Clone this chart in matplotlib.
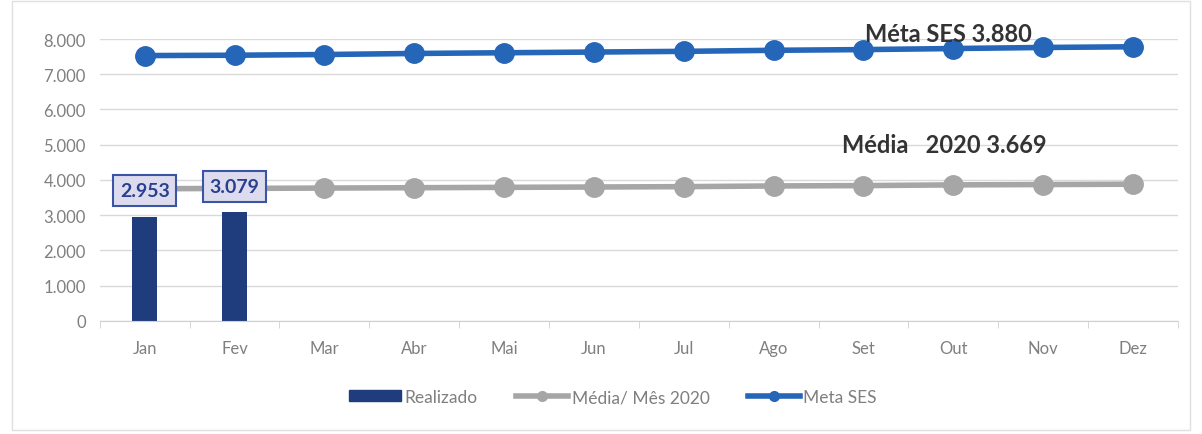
import matplotlib.pyplot as plt
import numpy as np
from matplotlib.patches import Rectangle
from matplotlib.lines import Line2D

plt.rcParams['font.family'] = ['Lato', 'DejaVu Sans']

months = ['Jan', 'Fev', 'Mar', 'Abr', 'Mai', 'Jun', 'Jul', 'Ago', 'Set', 'Out', 'Nov', 'Dez']
realizado = [2953, 3079]
media_mes = [3750, 3760, 3770, 3780, 3790, 3800, 3810, 3830, 3840, 3860, 3870, 3880]
meta_ses = [7530, 7540, 7560, 7590, 7610, 7630, 7650, 7680, 7700, 7730, 7760, 7780]
yticks = [0, 1000, 2000, 3000, 4000, 5000, 6000, 7000, 8000]
ytick_labels = ['0', '1.000', '2.000', '3.000', '4.000', '5.000', '6.000', '7.000', '8.000']

bar_col = '#1f3d7c'
media_col = '#a6a6a6'
meta_col = '#2566b8'
txt_col = '#7f7f7f'

fig = plt.figure(figsize=(12.02, 4.35), dpi=100)
ax = fig.add_axes([0.083, 0.26, 0.897, 0.648])

x = np.arange(len(months))
bars = ax.bar(x[:len(realizado)], realizado, width=0.28, color=bar_col, zorder=2)
ax.plot(x, media_mes, color=media_col, lw=4, marker='o', ms=14, zorder=3, clip_on=False)
ax.plot(x, meta_ses, color=meta_col, lw=4, marker='o', ms=14, zorder=3, clip_on=False)

# value labels in boxes
for i, v in enumerate(realizado):
    ax.text(x[i], 3700 + 120 * i, f'{v / 1000:.3f}', ha='center', va='center', fontsize=14,
            fontweight='bold', color='#2a3f8f', zorder=5,
            bbox=dict(boxstyle='square,pad=0.35', fc='#dcdcee', ec='#3a55a6', lw=1.5))

ax.text(8.95, 8150, 'Méta SES 3.880', ha='center', va='center', fontsize=17,
        fontweight='bold', color='#333333', zorder=6)
ax.text(8.9, 5010, 'Média   2020 3.669', ha='center', va='center', fontsize=17,
        fontweight='bold', color='#333333', zorder=6)

ax.set_xlim(-0.5, 11.5)
ax.set_ylim(0, 8000)
ax.set_yticks(yticks)
ax.set_yticklabels(ytick_labels)
ax.set_xticks(x)
ax.set_xticklabels(months)
ax.set_xticks(np.arange(-0.5, 12, 1), minor=True)
ax.tick_params(axis='x', which='major', length=0, pad=14, labelsize=12, labelcolor=txt_col)
ax.tick_params(axis='x', which='minor', length=5, color='#d0d0d0')
ax.tick_params(axis='y', length=0, pad=10, labelsize=12, labelcolor=txt_col)
ax.grid(axis='y', color='#d9d9d9', lw=1, zorder=0)
ax.set_axisbelow(True)
for s in ['top', 'right', 'left']:
    ax.spines[s].set_visible(False)
ax.spines['bottom'].set_color('#d0d0d0')

handles = [Rectangle((0, 0), 1, 1, color=bar_col),
           Line2D([], [], color=media_col, lw=4, marker='o', ms=7),
           Line2D([], [], color=meta_col, lw=4, marker='o', ms=7)]
labels = ['Realizado', 'Média/ Mês 2020', 'Meta SES']
leg = fig.legend(handles, labels, loc='center', bbox_to_anchor=(0.51, 0.085), ncol=3, frameon=False,
                 fontsize=12.5, handlelength=3.0, handleheight=0.6, columnspacing=2.2, handletextpad=0.2)
for t in leg.get_texts():
    t.set_color(txt_col)

fig.patches.append(Rectangle((0.01, 0.01), 0.98, 0.985, transform=fig.transFigure,
                             fill=False, ec='#e0e0e0', lw=1))

fig.savefig('out.png', dpi=100)
